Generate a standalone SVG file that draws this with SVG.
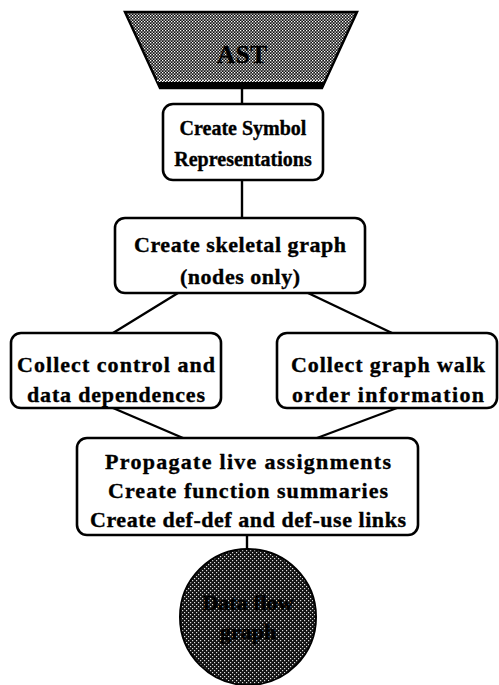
<svg xmlns="http://www.w3.org/2000/svg" width="499" height="685" viewBox="0 0 499 685">
  <defs>
    <!-- halftone screens -->
    <pattern id="screenMid" width="3" height="3" patternUnits="userSpaceOnUse">
      <rect width="3" height="3" fill="#111"/>
      <rect x="0" y="0" width="1.3" height="1.3" fill="#fff"/>
      <rect x="1.5" y="1.5" width="1.3" height="1.3" fill="#fff"/>
    </pattern>
    <pattern id="screenDark" width="4" height="4" patternUnits="userSpaceOnUse">
      <rect width="4" height="4" fill="#111"/>
      <rect x="0" y="0" width="1.2" height="1.2" fill="#ddd"/>
      <rect x="2" y="2" width="1.2" height="1.2" fill="#ddd"/>
    </pattern>
  </defs>
  <style>
    .box { fill: #fff; stroke: #000; stroke-width: 2.6; }
    .lbl { font-family: "Liberation Serif", "Times New Roman", serif; font-weight: bold; font-size: 22px; text-anchor: middle; fill: #000; stroke: #000; stroke-width: 0.35; }
    .link { stroke: #000; stroke-width: 2.4; fill: none; }
  </style>
  <rect width="499" height="685" fill="#fff"/>

  <g id="connectors">
    <line class="link" x1="242" y1="88" x2="242" y2="104"/>
    <line class="link" x1="242" y1="180" x2="242" y2="218"/>
    <line class="link" x1="178" y1="293" x2="113" y2="333"/>
    <line class="link" x1="308" y1="293" x2="392" y2="333"/>
    <line class="link" x1="113" y1="408" x2="183" y2="438"/>
    <line class="link" x1="397" y1="408" x2="317" y2="438"/>
    <line class="link" x1="247" y1="535" x2="247" y2="551"/>
  </g>

  <g id="ast">
    <polygon points="125,12 357,12 322,88 160,88" fill="url(#screenMid)" stroke="#000" stroke-width="2.5" stroke-linejoin="miter"/>
    <rect x="159" y="82" width="164" height="6" fill="#000"/>
    <line x1="157" y1="80.5" x2="325" y2="80.5" stroke="#fff" stroke-width="1.5" stroke-dasharray="1.5 1.5"/>
    <text class="lbl" x="242" y="63" style="font-size:25px" textLength="50">AST</text>
  </g>

  <g id="symbols">
    <rect class="box" x="163" y="104" width="160" height="76" rx="10"/>
    <text class="lbl" x="243" y="135" style="font-size:20px">Create Symbol</text>
    <text class="lbl" x="243" y="166" style="font-size:20px">Representations</text>
  </g>

  <g id="skeleton">
    <rect class="box" x="115" y="218" width="250" height="75" rx="10"/>
    <text class="lbl" x="240" y="252" textLength="212">Create skeletal graph</text>
    <text class="lbl" x="240" y="284" textLength="120">(nodes only)</text>
  </g>

  <g id="dependences">
    <rect class="box" x="11" y="333" width="210" height="75" rx="10"/>
    <text class="lbl" x="116" y="372" textLength="198">Collect control and</text>
    <text class="lbl" x="116" y="402" textLength="178">data dependences</text>
  </g>

  <g id="walk-order">
    <rect class="box" x="277" y="333" width="220" height="75" rx="10"/>
    <text class="lbl" x="388" y="372" textLength="194">Collect graph walk</text>
    <text class="lbl" x="388" y="402" textLength="192">order information</text>
  </g>

  <g id="propagate">
    <rect class="box" x="77" y="438" width="341" height="97" rx="10"/>
    <text class="lbl" x="248" y="469" textLength="286">Propagate live assignments</text>
    <text class="lbl" x="248" y="498" textLength="280">Create function summaries</text>
    <text class="lbl" x="248" y="527" textLength="316">Create def-def and def-use links</text>
  </g>

  <g id="dataflow">
    <circle cx="248" cy="617" r="68" fill="url(#screenDark)" stroke="#000" stroke-width="2"/>
    <text class="lbl" x="248" y="610">Data flow</text>
    <text class="lbl" x="248" y="639">graph</text>
  </g>
</svg>
